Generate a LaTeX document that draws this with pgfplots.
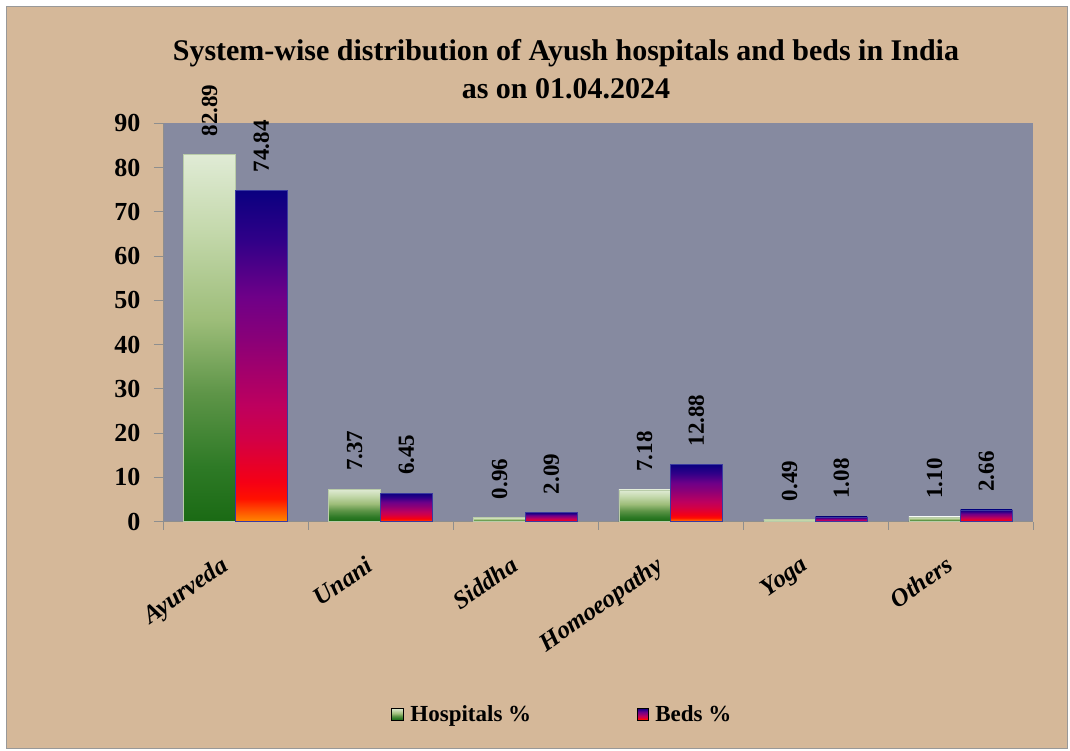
\documentclass[border=0pt]{standalone}
\usepackage{fontspec}
\setmainfont{Liberation Serif}
\usepackage{graphicx}
\usepackage{pgfplots}
\pgfplotsset{compat=1.18}

\definecolor{paneltan}{HTML}{D5B899}
\definecolor{plotgray}{HTML}{868AA0}
\definecolor{axisgray}{HTML}{8E8E8E}
\definecolor{h0}{HTML}{1A6A14}
\definecolor{h1}{HTML}{2E7A26}
\definecolor{h2}{HTML}{5E9548}
\definecolor{h3}{HTML}{9DBD79}
\definecolor{h4}{HTML}{C5D9AD}
\definecolor{h5}{HTML}{E0EBD5}
\definecolor{b0}{HTML}{FF8A00}
\definecolor{b1}{HTML}{FF1000}
\definecolor{b2}{HTML}{F50015}
\definecolor{b3}{HTML}{D20046}
\definecolor{b4}{HTML}{BE005E}
\definecolor{b5}{HTML}{8A0078}
\definecolor{b6}{HTML}{6E0088}
\definecolor{b7}{HTML}{300088}
\definecolor{b8}{HTML}{0A0080}
\definecolor{hedge}{HTML}{B9CCA8}
\definecolor{bedge}{HTML}{3A3AA0}

\pgfdeclareverticalshading{hosp}{100bp}{color(0bp)=(h0); color(25bp)=(h0); color(32.5bp)=(h1); color(42.5bp)=(h2); color(52.5bp)=(h3); color(65bp)=(h4); color(75bp)=(h5); color(100bp)=(h5)}
\pgfdeclareverticalshading{beds}{100bp}{color(0bp)=(b0); color(25bp)=(b0); color(28.5bp)=(b1); color(31bp)=(b2); color(37.5bp)=(b3); color(42.5bp)=(b4); color(52.5bp)=(b5); color(59bp)=(b6); color(67.5bp)=(b7); color(75bp)=(b8); color(100bp)=(b8)}

\pgfplotsset{
  hospbar/.style={ybar, bar shift=-0.1783, shade, shading=hosp, draw=hedge, line width=0.6pt, forget plot,
    every node near coord/.append style={xshift=-25.85pt}},
  bedbar/.style={ybar, bar shift=0.1783, shade, shading=beds, draw=bedge, line width=0.6pt, forget plot,
    every node near coord/.append style={xshift=25.85pt}},
}

\begin{document}
\begin{tikzpicture}
\useasboundingbox (0pt,0pt) rectangle (1070pt,750pt);
\fill[white] (0pt,0pt) rectangle (1070pt,750pt);
\filldraw[fill=paneltan, draw=gray!80, line width=1pt] (6pt,2pt) rectangle (1067pt,743pt);
\node[font=\fontsize{30}{38}\selectfont\bfseries, align=center] at (566pt,681pt)
  {System-wise distribution of Ayush hospitals and beds in India\\as on 01.04.2024};
\begin{axis}[
  at={(163pt,228.3pt)}, anchor=south west,
  scale only axis, width=870pt, height=398.4pt,
  xmin=-0.5, xmax=5.5, ymin=0, ymax=90,
  axis background/.style={fill=plotgray},
  axis x line*=bottom, axis y line*=left,
  axis line style={draw=axisgray, line width=1pt},
  tick style={draw=axisgray, line width=1pt},
  tick align=outside,
  xtick={0,1,2,3,4,5},
  xticklabels={Ayurveda,Unani,Siddha,Homoeopathy,Yoga,Others},
  major x tick style={draw=none},
  minor xtick={-0.5,0.5,1.5,2.5,3.5,4.5,5.5},
  minor tick length=8pt,
  ytick={0,10,...,90},
  major tick length=9pt,
  /pgf/number format/assume math mode=true,
  yticklabel style={font=\fontsize{26}{26}\selectfont\bfseries, xshift=-10pt},
  xticklabel style={font=\fontsize{25}{25}\selectfont\bfseries\itshape, inner sep=0pt,
    xshift=-16pt, yshift=-24pt, rotate=35, anchor=north east},
  bar width=0.3566,
  point meta=explicit symbolic,
  nodes near coords={\rotatebox{90}{\pgfplotspointmeta}},
  every node near coord/.append style={font=\fontsize{23}{23}\selectfont\bfseries, inner sep=0pt, anchor=south, yshift=18pt},
  clip=false,
  legend style={at={(0.459,-0.483)}, anchor=center, draw=none, fill=none,
    font=\fontsize{23}{23}\selectfont\bfseries, legend columns=2,
    /tikz/every even column/.append style={column sep=104pt}},
]
\addplot[hospbar] coordinates {(0,82.89) [82.89]};
\addplot[hospbar] coordinates {(1,7.37) [7.37]};
\addplot[hospbar] coordinates {(2,0.96) [0.96]};
\addplot[hospbar] coordinates {(3,7.18) [7.18]};
\addplot[hospbar] coordinates {(4,0.49) [0.49]};
\addplot[hospbar] coordinates {(5,1.10) [1.10]};
\addplot[bedbar] coordinates {(0,74.84) [74.84]};
\addplot[bedbar] coordinates {(1,6.45) [6.45]};
\addplot[bedbar] coordinates {(2,2.09) [2.09]};
\addplot[bedbar] coordinates {(3,12.88) [12.88]};
\addplot[bedbar] coordinates {(4,1.08) [1.08]};
\addplot[bedbar] coordinates {(5,2.66) [2.66]};
\addlegendimage{legend image code/.code={\shade[shading=hosp] (0pt,-6pt) rectangle (12pt,6pt); \path[draw=none,fill=none,shade=false] (0pt,0pt) rectangle (17pt,0.1pt);}}
\addlegendentry{Hospitals \%}
\addlegendimage{legend image code/.code={\shade[shading=beds] (0pt,-6pt) rectangle (11pt,6pt); \path[draw=none,fill=none,shade=false] (0pt,0pt) rectangle (16pt,0.1pt);}}
\addlegendentry{Beds \%}
\end{axis}
\end{tikzpicture}
\end{document}
